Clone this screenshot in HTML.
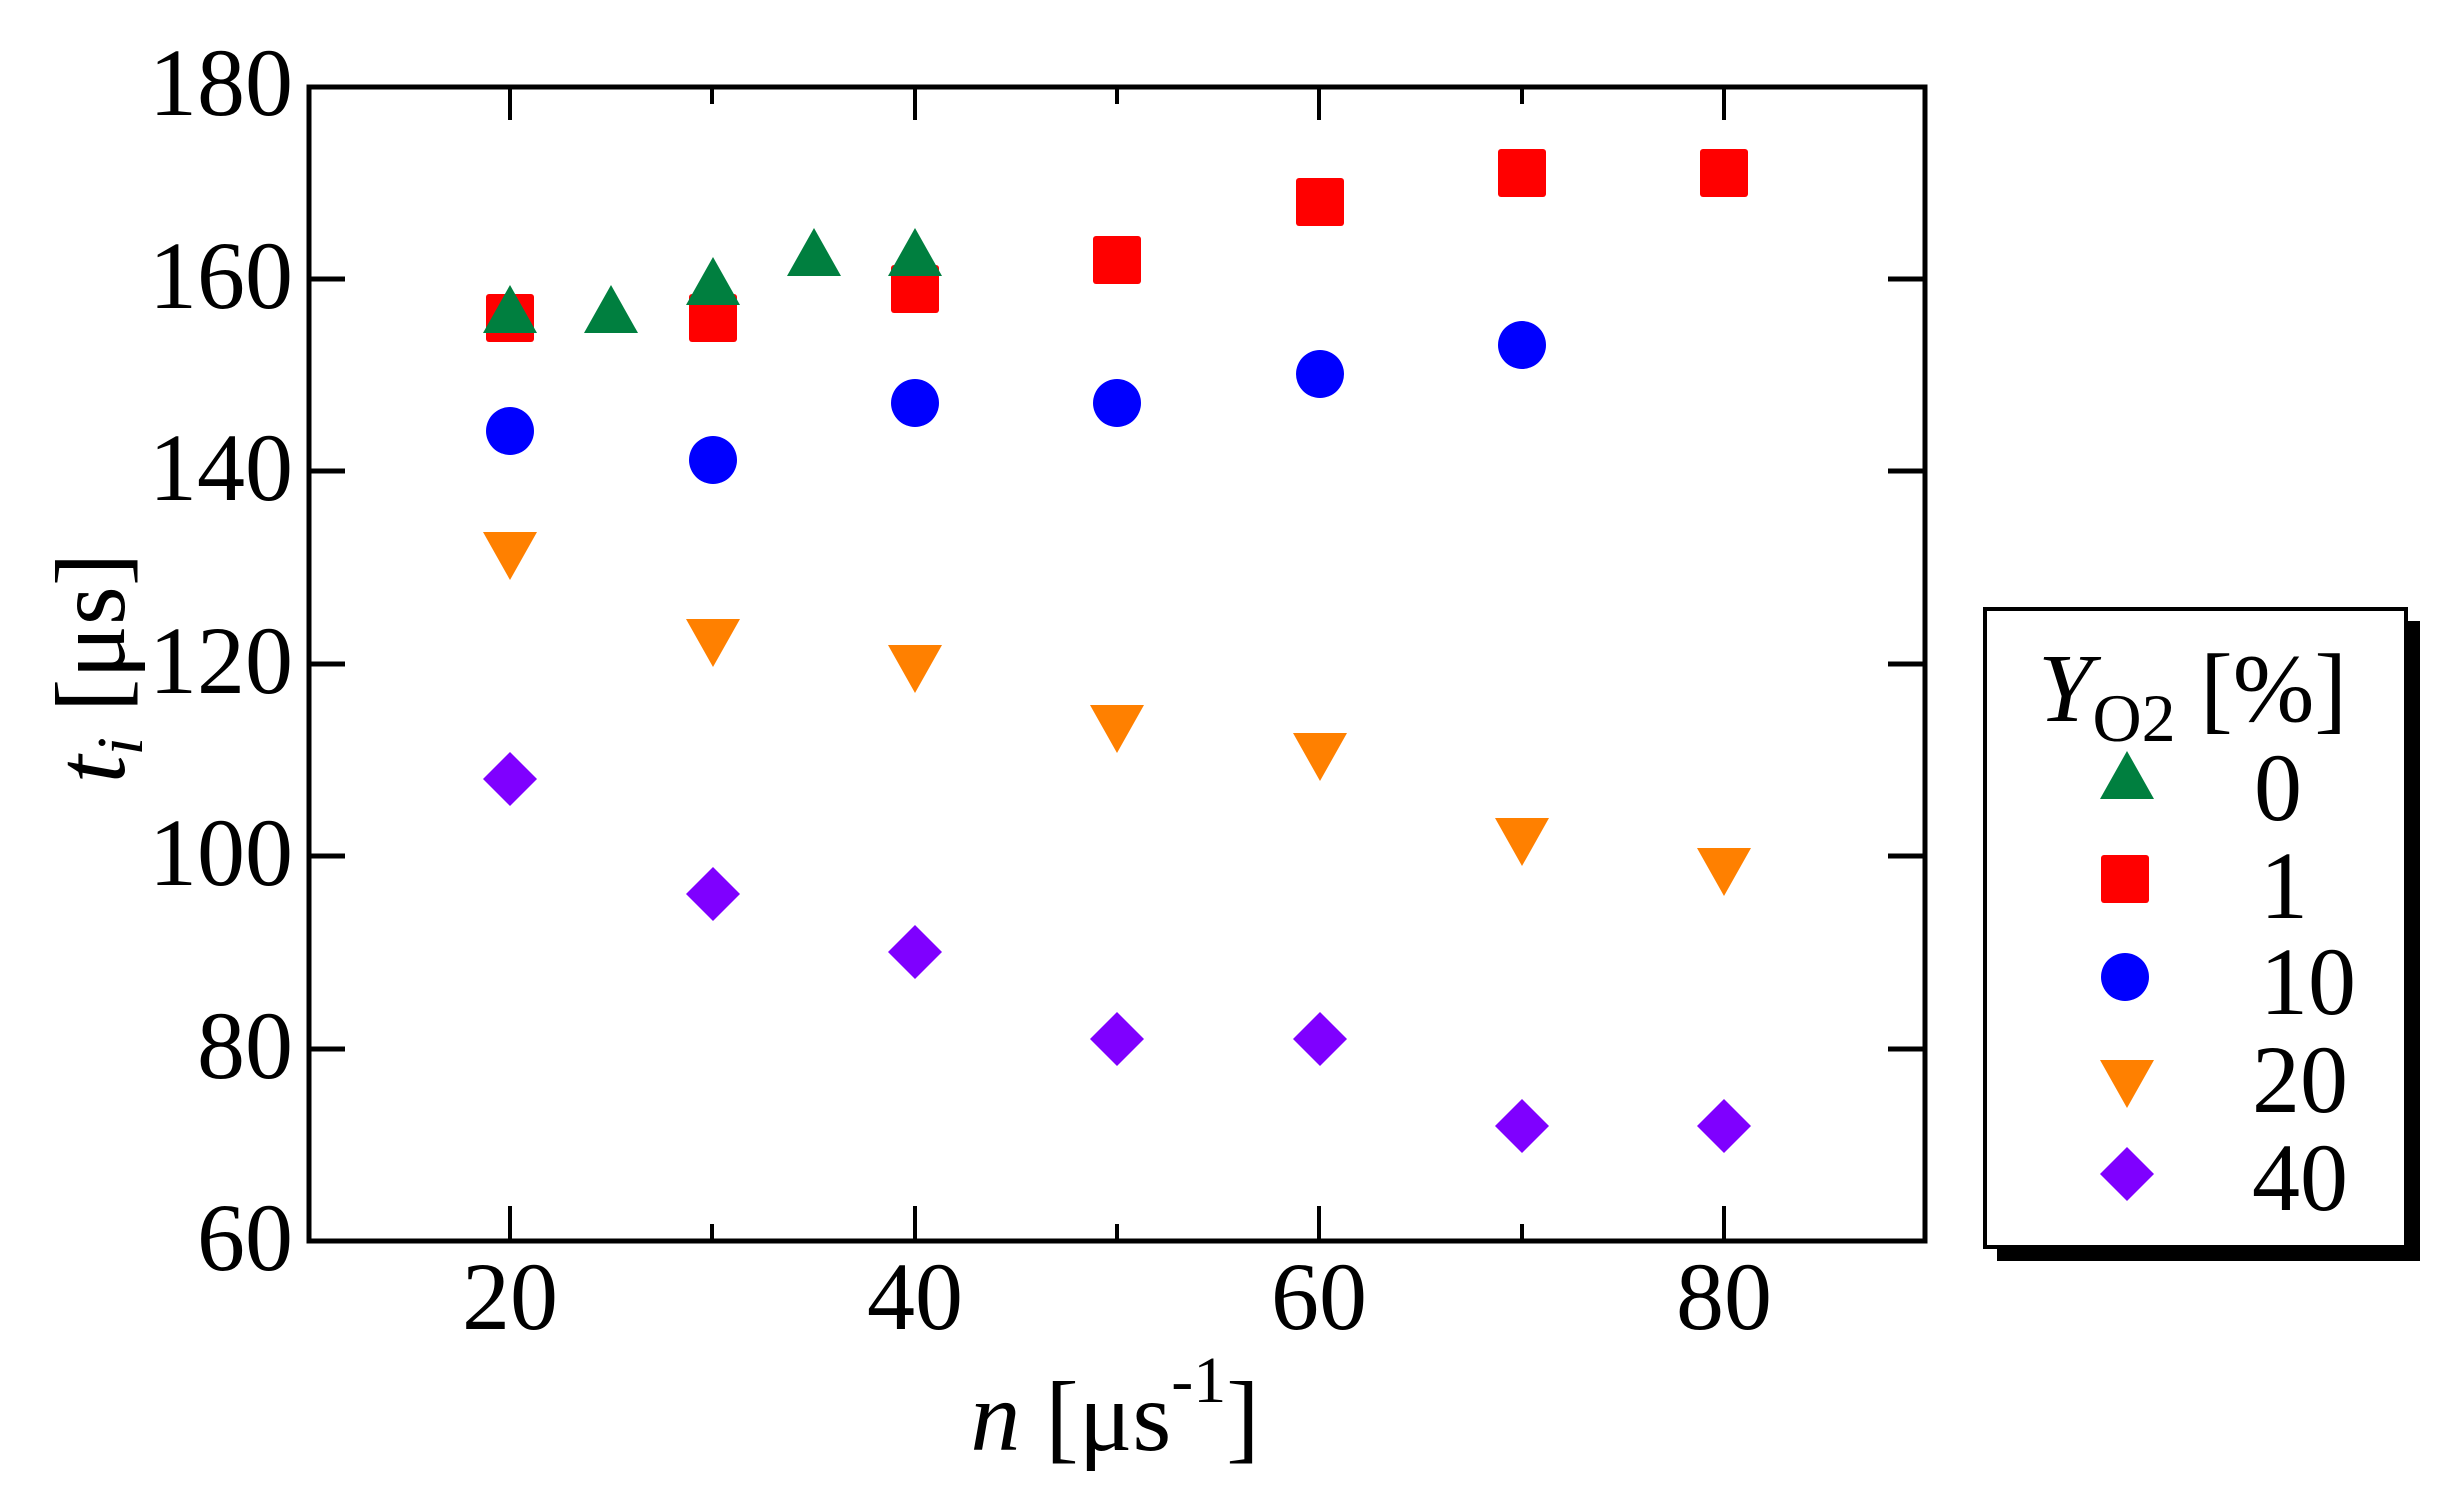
<!DOCTYPE html>
<html><head><meta charset="utf-8"><style>
html,body{margin:0;padding:0;background:#fff;}
svg{display:block;}
text{font-family:"Liberation Serif",serif;fill:#000;}
</style></head><body>
<svg width="2453" height="1497" viewBox="0 0 2453 1497" xmlns="http://www.w3.org/2000/svg">
<defs>
<path id="tu" d="M0,-25 L27,23 L-27,23 Z"/>
<path id="td" d="M0,24 L27,-24 L-27,-24 Z"/>
<rect id="sq" x="-24" y="-24" width="48" height="48" rx="3"/>
<ellipse id="ci" cx="0" cy="0" rx="24" ry="24"/>
<path id="di" d="M0,-27 L27,0 L0,27 L-27,0 Z"/>
</defs>
<g stroke="#000" stroke-width="4">
<line x1="510" y1="87" x2="510" y2="120"/><line x1="915" y1="87" x2="915" y2="120"/><line x1="1319" y1="87" x2="1319" y2="120"/><line x1="1724" y1="87" x2="1724" y2="120"/>
<line x1="712" y1="87" x2="712" y2="104"/><line x1="1117" y1="87" x2="1117" y2="104"/><line x1="1522" y1="87" x2="1522" y2="104"/>
<line x1="510" y1="1241" x2="510" y2="1206"/><line x1="915" y1="1241" x2="915" y2="1206"/><line x1="1319" y1="1241" x2="1319" y2="1206"/><line x1="1724" y1="1241" x2="1724" y2="1206"/>
<line x1="712" y1="1241" x2="712" y2="1224"/><line x1="1117" y1="1241" x2="1117" y2="1224"/><line x1="1522" y1="1241" x2="1522" y2="1224"/>
</g>
<g stroke="#000" stroke-width="5">
<line x1="308" y1="279" x2="345" y2="279"/><line x1="308" y1="471" x2="345" y2="471"/><line x1="308" y1="664" x2="345" y2="664"/><line x1="308" y1="856" x2="345" y2="856"/><line x1="308" y1="1049" x2="345" y2="1049"/>
<line x1="1925" y1="279" x2="1888" y2="279"/><line x1="1925" y1="471" x2="1888" y2="471"/><line x1="1925" y1="664" x2="1888" y2="664"/><line x1="1925" y1="856" x2="1888" y2="856"/><line x1="1925" y1="1049" x2="1888" y2="1049"/>
</g>
<rect x="309" y="87" width="1616" height="1154" fill="none" stroke="#000" stroke-width="5"/>
<g font-size="96" text-anchor="end">
<text x="293" y="115">180</text><text x="293" y="308">160</text><text x="293" y="500">140</text><text x="293" y="693">120</text><text x="293" y="885">100</text><text x="293" y="1078">80</text><text x="293" y="1270">60</text>
</g>
<g font-size="96" text-anchor="middle">
<text x="510" y="1329">20</text><text x="915" y="1329">40</text><text x="1319" y="1329">60</text><text x="1724" y="1329">80</text>
</g>
<text x="1115" y="1450" font-size="100" text-anchor="middle"><tspan font-style="italic">n</tspan> [μs<tspan font-size="66" dy="-48">-1</tspan><tspan dy="48">]</tspan></text>
<text transform="translate(124,668) rotate(-90)" font-size="100" text-anchor="middle"><tspan font-style="italic">t</tspan><tspan font-style="italic" font-size="66" dy="18">i</tspan><tspan dy="-18"> [μs]</tspan></text>
<g fill="#ff0000">
<use href="#sq" x="510" y="318"/><use href="#sq" x="713" y="318"/><use href="#sq" x="915" y="289"/><use href="#sq" x="1117" y="260"/><use href="#sq" x="1320" y="202"/><use href="#sq" x="1522" y="173"/><use href="#sq" x="1724" y="173"/>
</g>
<g fill="#007f3f">
<use href="#tu" x="510" y="310"/><use href="#tu" x="611" y="310"/><use href="#tu" x="713" y="282"/><use href="#tu" x="814" y="253"/><use href="#tu" x="915" y="253"/>
</g>
<g fill="#0000ff">
<use href="#ci" x="510" y="431"/><use href="#ci" x="713" y="460"/><use href="#ci" x="915" y="403"/><use href="#ci" x="1117" y="403"/><use href="#ci" x="1320" y="374"/><use href="#ci" x="1522" y="345"/>
</g>
<g fill="#ff8000">
<use href="#td" x="510" y="556"/><use href="#td" x="713" y="643"/><use href="#td" x="915" y="669"/><use href="#td" x="1117" y="729"/><use href="#td" x="1320" y="757"/><use href="#td" x="1522" y="842"/><use href="#td" x="1724" y="872"/>
</g>
<g fill="#7f00ff">
<use href="#di" x="510" y="779"/><use href="#di" x="713" y="894"/><use href="#di" x="915" y="952"/><use href="#di" x="1117" y="1039"/><use href="#di" x="1320" y="1039"/><use href="#di" x="1522" y="1126"/><use href="#di" x="1724" y="1126"/>
</g>
<!-- legend -->
<rect x="1997" y="621" width="423" height="640" fill="#000"/>
<rect x="1985" y="609" width="421" height="638" fill="#fff" stroke="#000" stroke-width="4"/>
<text x="2038" y="721" font-size="98"><tspan font-style="italic">Y</tspan><tspan font-size="68" dy="20">O2</tspan><tspan dy="-20"> [%]</tspan></text>
<use href="#tu" x="2127" y="776" fill="#007f3f"/>
<use href="#sq" x="2125" y="879" fill="#ff0000"/>
<use href="#ci" x="2125" y="977" fill="#0000ff"/>
<use href="#td" x="2127" y="1084" fill="#ff8000"/>
<use href="#di" x="2127" y="1174" fill="#7f00ff"/>
<g font-size="96">
<text x="2254" y="820">0</text><text x="2260" y="918">1</text><text x="2260" y="1014">10</text><text x="2252" y="1112">20</text><text x="2252" y="1210">40</text>
</g>
</svg>
</body></html>
